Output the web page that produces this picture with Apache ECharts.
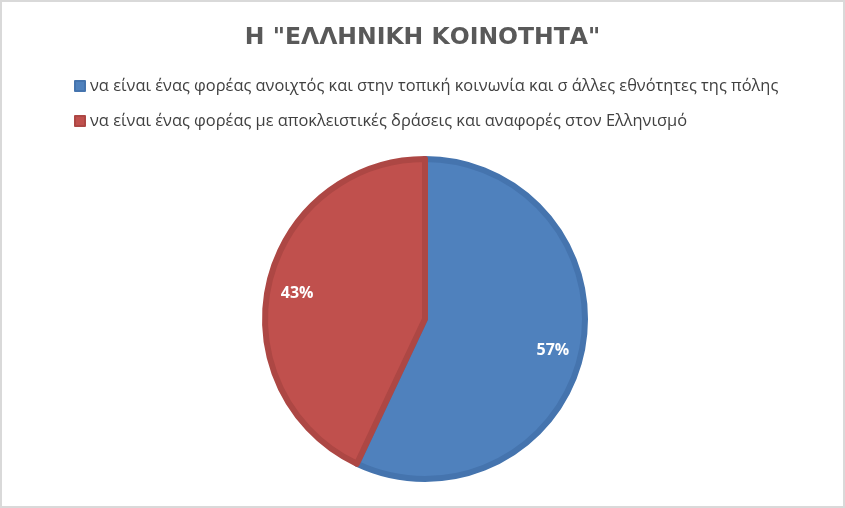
<!DOCTYPE html>
<html><head><meta charset="utf-8">
<script src="https://cdn.jsdelivr.net/npm/echarts@6/dist/echarts.min.js"></script>
<style>
html,body{margin:0;padding:0;background:#fff;}
#c{width:845px;height:508px;box-sizing:border-box;border:2px solid #D9D9D9;}
</style></head>
<body><div id="c"></div>
<script>
const titleText = 'Η "ΕΛΛΗΝΙΚΗ ΚΟΙΝΟΤΗΤΑ"';
const categories = [
  'να είναι ένας φορέας ανοιχτός και στην τοπική κοινωνία και σ άλλες εθνότητες της πόλης',
  'να είναι ένας φορέας με αποκλειστικές δράσεις και αναφορές στον Ελληνισμό'
];
const values = [57, 43];
const colors = ['#4F81BD', '#C0504D'];
const borderColors = ['#4574AE', '#AD4744'];

const chart = echarts.init(document.getElementById('c'), null, {renderer:'canvas'});
const data = categories.map((n,i)=>({name:n, value:values[i],
  itemStyle:{color:colors[i], borderColor:borderColors[i]}}));
chart.setOption({
  animation:false,
  title:{text:titleText, left:'center', top:19,
    textStyle:{fontFamily:'DejaVu Sans', fontWeight:'bold', fontSize:23.5, color:'#595959'}},
  legend:{orient:'vertical', left:67, top:71, itemWidth:10, itemHeight:10, itemGap:19,
    icon:'rect',
    textStyle:{fontFamily:'Open Sans', fontSize:16.4, color:'#404040'},
    data:categories},
  series:[
    {type:'pie', center:[423,317], radius:[0,160], startAngle:90, clockwise:true,
     silent:true,
     itemStyle:{borderWidth:6},
     label:{show:false}, labelLine:{show:false},
     data:data},
    {type:'pie', center:[423,320], radius:[96,160], startAngle:90, clockwise:true,
     silent:true, legendHoverLink:false,
     itemStyle:{color:'rgba(0,0,0,0)', borderWidth:0},
     emphasis:{disabled:true},
     label:{show:true, position:'inside', formatter:'{d}%', color:'#fff',
       fontFamily:'Open Sans', fontWeight:'bold', fontSize:16},
     labelLine:{show:false},
     data:categories.map((n,i)=>({name:n, value:values[i]}))}
  ]
});
</script></body></html>
